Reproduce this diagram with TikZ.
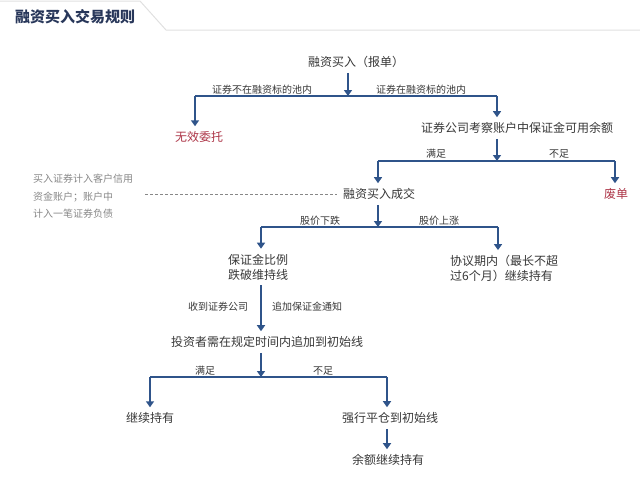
\documentclass[tikz,border=0pt]{standalone}
\usepackage{fontspec}
\setmainfont{Noto Sans CJK SC}
\usetikzlibrary{arrows.meta}
\definecolor{flowblue}{RGB}{47,84,138}
\definecolor{txtgray}{RGB}{55,55,55}
\definecolor{notegray}{RGB}{135,135,135}
\definecolor{warnred}{RGB}{172,52,70}
\definecolor{titlenavy}{RGB}{40,55,90}

\begin{document}
\begin{tikzpicture}[x=1pt,y=-1pt,
        flow/.style={draw=flowblue,line width=2pt,-{Triangle[width=8pt,length=6pt]}},
        bar/.style={draw=flowblue,line width=1.6pt},
        box/.style={text=txtgray,font=\fontsize{12}{15}\selectfont,inner xsep=0pt,inner ysep=5pt},
        cond/.style={text=txtgray,font=\fontsize{10}{12}\selectfont,inner sep=0pt},
        reject/.style={box,text=warnred}]
            \useasboundingbox (0,0) rectangle (640,490);
            % header tab
            \draw[black!12,line width=1pt] (0,1)--(140,1)--(166,30)--(640,30);
            \node[text=titlenavy,font=\fontsize{15}{18}\selectfont\bfseries,inner sep=0pt] (title) at (75,17) {融资买入交易规则};
            % nodes
            \node[box] (order) at (356,62) {融资买入（报单）};
            \node[reject] (invalid) at (199,137) {无效委托};
            \node[box] (check) at (517,128) {证券公司考察账户中保证金可用余额};
            \node[box] (deal) at (379,194) {融资买入成交};
            \node[reject] (void) at (616,194) {废单};
            \node[box,align=center] (drop) at (258,267) {保证金比例\\跌破维持线};
            \node[box,align=left,anchor=west] (hold) at (450,268.5) {协议期内（最长不超\\过6个月）继续持有};
            \node[box] (add) at (267,342) {投资者需在规定时间内追加到初始线};
            \node[box] (keep) at (150,418) {继续持有};
            \node[box] (force) at (390,418) {强行平仓到初始线};
            \node[box] (rest) at (388,460) {余额继续持有};
            \node[text=notegray,font=\fontsize{10}{17.5}\selectfont,align=left,inner sep=0pt,anchor=west] (note) at (33,196.5)
                {买入证券计入客户信用\\资金账户；账户中\\计入一笔证券负债};
            % bar junctions
            \coordinate (j1) at (348,96);  \coordinate (b1l) at (195,96);  \coordinate (b1r) at (497,96);
            \coordinate (j2) at (497,161); \coordinate (b2l) at (378,161); \coordinate (b2r) at (615,161);
            \coordinate (j3) at (378,227); \coordinate (b3l) at (261,227); \coordinate (b3r) at (498,227);
            \coordinate (j4) at (261,377); \coordinate (b4l) at (150,377); \coordinate (b4r) at (387,377);
            \foreach \l/\r in {b1l/b1r,b2l/b2r,b3l/b3r,b4l/b4r}{
                \draw[bar] (\l)--(\r);
            }
            \foreach \s/\j in {order/j1,check/j2,deal/j3,add/j4}{
                \draw[flow] (\s.south -| \j)--(\j);
            }
            \foreach \b/\t in {b1l/invalid,b1r/check,b2l/deal,b2r/void,b3l/drop,b3r/hold,b4l/keep,b4r/force}{
                \draw[flow] (\b)--(\b |- \t.north);
            }
            \draw[flow] (drop.south -| j4)--(add.north -| j4);
            \draw[flow] (force.south -| b4r)--(rest.north -| b4r);
            \draw[notegray,line width=0.8pt,dash pattern=on 3pt off 2pt] ([xshift=12pt]note.east |- deal.west)--([xshift=-6pt]deal.west);
            % branch labels
            \node[cond] (notpool) at (262,90) {证券不在融资标的池内};
            \node[cond] (inpool) at (421,90) {证券在融资标的池内};
            \node[cond] (enough) at (436,154) {满足};
            \node[cond] (short) at (559,154) {不足};
            \node[cond] (fall) at (320,221) {股价下跌};
            \node[cond] (rise) at (439,221) {股价上涨};
            \node[cond] (recv) at (218,307) {收到证券公司};
            \node[cond] (notice) at (307,307) {追加保证金通知};
            \node[cond] (met) at (205,371) {满足};
            \node[cond] (unmet) at (323,371) {不足};
        \end{tikzpicture}
\end{document}
